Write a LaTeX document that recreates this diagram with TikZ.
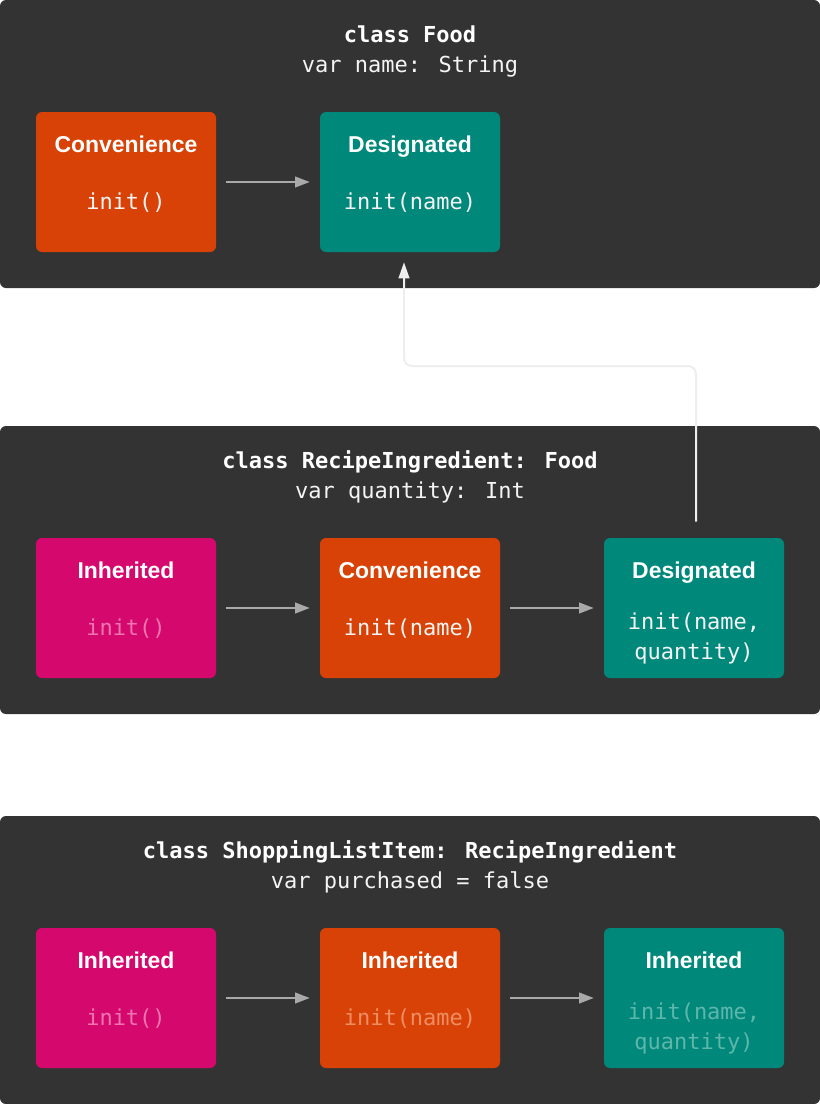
\documentclass[tikz,border=0pt]{standalone}
\usepackage{fontspec}
\setmainfont{Liberation Sans}
\newfontfamily\codefont{DejaVu Sans Mono}
\usetikzlibrary{calc,arrows.meta}
\definecolor{panelc}{HTML}{333333}
\definecolor{orangec}{HTML}{D84206}
\definecolor{tealc}{HTML}{00887B}
\definecolor{magentac}{HTML}{D5086E}
\definecolor{arrowc}{HTML}{A9A9A9}
\definecolor{connc}{HTML}{EEEEEE}
\definecolor{fadepink}{HTML}{EE74B0}
\definecolor{fadeorange}{HTML}{EE8D62}
\definecolor{fadeteal}{HTML}{5FB6AB}
\definecolor{textc}{HTML}{F4F4F4}
\tikzset{
  panel/.style={fill=panelc, rounded corners=4.5pt, draw=none},
  ibox/.style={draw=none, rounded corners=4.5pt, minimum width=135pt, minimum height=105pt, inner sep=0pt},
  boxlabel/.style={text=white, font=\fontsize{17.2}{20}\selectfont\bfseries, inner sep=0pt, anchor=base},
  code/.style={text=textc, font=\fontsize{16.5}{22.5}\selectfont\codefont, inner sep=0pt, align=center, anchor=base},
  titlec/.style={text=white, font=\fontsize{16.5}{20}\selectfont\codefont\bfseries, inner sep=0pt, anchor=base},
  subc/.style={text=textc, font=\fontsize{16.5}{20}\selectfont\codefont, inner sep=0pt, anchor=base},
  flow/.style={draw=arrowc, line width=1.5pt, -{Triangle[length=11pt,width=8pt]}, shorten <=7.5pt, shorten >=7.5pt},
  conn/.style={draw=connc, line width=1.5pt, rounded corners=6pt, -{Triangle[length=12pt,width=8pt]}}
}
\begin{document}
\begin{tikzpicture}[x=0.75pt,y=-0.75pt]
\useasboundingbox (0,0) rectangle (820,1104);
% panels
\path[panel] (0,0) rectangle (820,288);
\path[panel] (0,426) rectangle (820,714);
\path[panel] (0,816) rectangle (820,1104);
% panel 1
\node[titlec] (t1) at (410,42) {class Food};
\node[subc] (s1) at (410,72) {var name: String};
\node[ibox, fill=orangec] (b1) at (126,182) {};
\node[ibox, fill=tealc] (b2) at (410,182) {};
\node[boxlabel] (l1) at (126,152) {Convenience};
\node[code] (c1) at (126,209) {init()};
\node[boxlabel] (l2) at (410,152) {Designated};
\node[code] (c2) at (410,209) {init(name)};
\draw[flow] (b1.east) -- (b2.west);
% panel 2
\node[titlec] (t2) at (410,468) {class RecipeIngredient: Food};
\node[subc] (s2) at (410,498) {var quantity: Int};
\node[ibox, fill=magentac] (b3) at (126,608) {};
\node[ibox, fill=orangec] (b4) at (410,608) {};
\node[ibox, fill=tealc] (b5) at (694,608) {};
\node[boxlabel] (l3) at (126,578) {Inherited};
\node[code, text=fadepink] (c3) at (126,635) {init()};
\node[boxlabel] (l4) at (410,578) {Convenience};
\node[code] (c4) at (410,635) {init(name)};
\node[boxlabel] (l5) at (694,578) {Designated};
\node[code] (c5a) at (694,629) {init(name,};
\node[code] (c5b) at (694,659) {quantity)};
\draw[flow] (b3.east) -- (b4.west);
\draw[flow] (b4.east) -- (b5.west);
% panel 3
\node[titlec] (t3) at (410,858) {class ShoppingListItem: RecipeIngredient};
\node[subc] (s3) at (410,888) {var purchased = false};
\node[ibox, fill=magentac] (b6) at (126,998) {};
\node[ibox, fill=orangec] (b7) at (410,998) {};
\node[ibox, fill=tealc] (b8) at (694,998) {};
\node[boxlabel] (l6) at (126,968) {Inherited};
\node[code, text=fadepink] (c6) at (126,1025) {init()};
\node[boxlabel] (l7) at (410,968) {Inherited};
\node[code, text=fadeorange] (c7) at (410,1025) {init(name)};
\node[boxlabel] (l8) at (694,968) {Inherited};
\node[code, text=fadeteal] (c8a) at (694,1019) {init(name,};
\node[code, text=fadeteal] (c8b) at (694,1049) {quantity)};
\draw[flow] (b6.east) -- (b7.west);
\draw[flow] (b7.east) -- (b8.west);
% inheritance connector
\coordinate (k0) at ($(b5.north)+(2,-16)$);
\coordinate (k1) at (696,366);
\coordinate (k2) at (404,366);
\coordinate (k3) at ($(b2.south)+(-6,10)$);
\draw[conn] (k0) -- (k1) -- (k2) -- (k3);
\end{tikzpicture}
\end{document}
